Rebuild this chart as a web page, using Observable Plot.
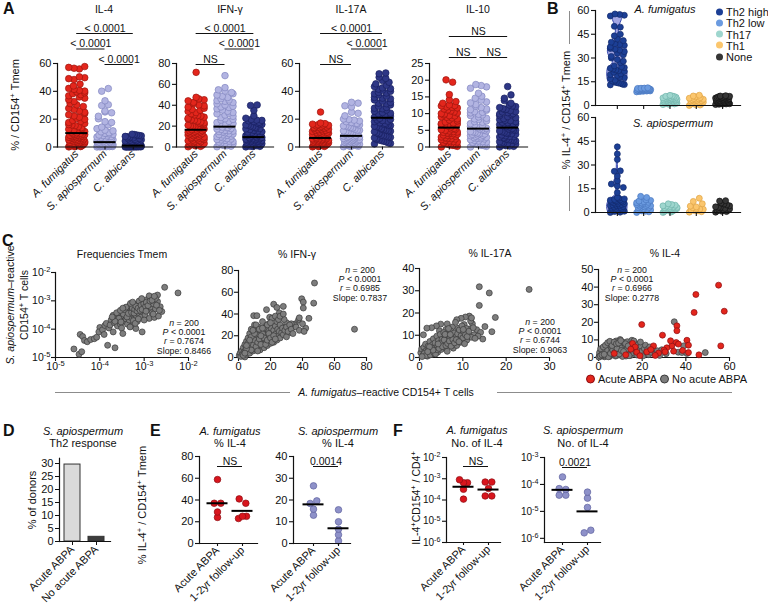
<!DOCTYPE html>
<html><head><meta charset="utf-8">
<script src="https://cdn.jsdelivr.net/npm/d3@7"></script>
<script src="https://cdn.jsdelivr.net/npm/@observablehq/plot@0.6"></script>
<style>
html,body{margin:0;padding:0;background:#fff;}
#fig{position:relative;width:768px;height:606px;overflow:hidden;font-family:"Liberation Sans",Arial,Helvetica,sans-serif;color:#111;}
#fig svg{position:absolute;left:0;top:0;pointer-events:none;}
.t{position:absolute;white-space:nowrap;line-height:1;}
.t sup{font-size:0.7em;line-height:0;vertical-align:0.5em;}
.hl{position:absolute;background:#8c8c8c;}
.dot{display:inline-block;width:7px;height:7px;border-radius:50%;vertical-align:middle;margin-right:3px;position:relative;top:-1px;}
</style></head><body><div id="fig"></div>
<script>
// ---------------- DATA ----------------
const catsA = ["A. fumigatus","S. apiospermum","C. albicans"];
// Panel A values (% of CD154+ Tmem)
const il4Af=[57.8,57.2,56.6,56.1,50.4,49.8,49.1,48.5,45.2,43.9,42.1,41.4,40.7,40.2,39.6,38.9,38.3,37.6,36.8,35.9,35.1,34.0,32.7,31.2,30.3,29.1,27.8,26.9,25.8,24.9,24.1,23.2,22.3,21.4,20.6,19.9,19.1,18.4,17.6,16.9,16.1,15.4,14.6,13.9,13.1,12.4,11.8,11.1,10.6,10.2,12.7,15.8,9.8,9.3,8.9,8.4,7.9,7.5,7.0,6.6,6.1,5.7,5.2,4.8,4.3,3.9,3.4,3.0,2.6,2.1,1.7,1.3,0.9,0.5,0.2,8.1,4.1,1.1,6.8,2.9,9.6,9.0,8.6,8.2,7.7,7.2,6.8,6.3,5.9,5.4,5.0,4.6,4.4,3.7,3.2,2.8,2.3,1.9,1.5,1.0,0.7,0.4,0.1,0.3];
const il4Sa=[42.0,40.1,33.2,30.4,29.8,25.9,25.2,24.6,22.1,20.3,18.2,17.6,15.9,14.3,13.2,12.1,11.6,10.9,10.3,9.8,9.4,9.0,8.6,8.2,7.9,7.5,7.2,6.8,6.5,6.1,5.8,5.5,5.2,4.9,4.6,4.3,4.0,3.8,3.4,3.2,3.0,2.8,2.6,2.4,2.2,2.0,1.9,1.8,1.6,1.5,1.4,1.3,1.2,1.1,1.0,0.9,0.8,0.7,0.6,0.5,0.4,0.3,0.2,0.1,0.0,2.5,1.7,0.9,0.4,3.1,2.1,1.2,0.6,0.2,1.5,2.9];
const il4Ca=[9.2,8.9,8.6,8.3,8.0,7.6,7.3,7.0,6.6,6.2,5.9,5.5,5.2,4.9,4.6,4.3,4.0,3.7,3.4,3.1,2.9,2.7,2.5,2.3,2.1,1.9,1.8,1.7,1.6,1.5,1.4,1.3,1.2,1.1,1.05,0.95,0.9,0.85,0.8,0.75,0.7,0.65,0.6,0.55,0.5,0.45,0.4,0.35,0.3,0.25,0.2,0.15,0.1,0.05,0.0,0.9,0.8,0.7,0.6,0.5,0.4,0.3,0.2,0.1,0.0,0.55,0.35,0.25,0.15,0.05];
const ifnAf=[71.5,47.6,46.1,45.3,44.2,42.8,41.6,40.3,39.4,38.2,37.1,36.0,35.2,34.1,33.0,31.9,30.8,29.7,28.6,27.6,26.7,25.8,24.9,24.0,23.2,22.4,21.6,20.8,20.0,19.3,18.6,17.9,17.2,16.7,30.2,26.1,22.9,19.8,16.2,15.6,15.0,14.4,13.8,13.2,12.6,12.0,11.4,10.8,10.2,9.6,9.0,8.4,7.8,7.2,6.6,6.0,5.4,4.8,4.2,3.6,3.0,2.4,1.8,1.2,0.6,0.2,14.1,11.7,9.3,6.3,3.3,1.5,12.9,8.1,5.1,15.3];
const ifnSa=[68.4,56.9,54.8,53.6,52.2,51.0,49.8,48.6,47.4,46.2,45.0,43.8,42.6,41.4,40.2,39.0,37.8,36.6,35.4,34.2,33.0,31.8,30.6,29.4,28.2,27.0,25.8,24.6,23.4,22.4,21.4,20.6,19.9,44.5,38.4,32.4,26.4,21.9,19.1,18.4,17.6,16.8,16.0,15.2,14.4,13.6,12.8,12.0,11.2,10.4,9.6,8.8,8.0,7.2,6.4,5.6,4.8,4.0,3.2,2.4,1.6,0.8,0.2,17.2,14.8,12.4,10.0,7.6,5.2,2.8,1.2,15.6,11.6,6.8,3.6,18.8];
const ifnCa=[40.3,39.8,35.2,29.8,27.6,26.4,25.8,25.1,24.4,23.7,23.0,22.3,21.6,20.9,20.2,19.5,18.8,18.1,17.4,16.7,16.0,15.3,14.6,13.9,13.2,12.5,11.8,11.1,10.4,9.8,21.2,17.7,14.2,10.9,25.5,12.1,9.2,8.8,8.4,8.0,7.6,7.2,6.8,6.4,6.0,5.6,5.2,4.8,4.4,4.0,3.6,3.2,2.8,2.4,2.0,1.6,1.2,0.8,0.4,0.1,8.6,7.4,6.2,5.0,3.8,2.6,1.4,0.6,9.0,7.0,4.6,2.2];
const il17Af=[25.1,17.2,16.8,16.4,16.0,15.6,15.2,14.8,14.4,14.0,13.6,13.2,12.8,12.4,12.0,11.6,11.2,10.8,10.4,10.0,9.6,9.2,8.8,8.4,8.0,7.6,7.3,7.0,6.7,15.8,13.9,11.9,9.9,8.2,12.9,10.6,6.3,6.0,5.7,5.4,5.1,4.8,4.5,4.2,3.9,3.6,3.3,3.0,2.7,2.4,2.1,1.8,1.5,1.2,0.9,0.6,0.3,0.1,5.9,4.9,3.8,2.8,1.7,0.7,6.1,4.4,3.1,1.9,0.4,5.5,2.2,1.0];
const il17Sa=[32.1,31.5,29.6,28.8,25.0,24.2,20.1,19.3,18.7,18.2,17.6,17.0,16.4,15.8,15.2,14.6,14.0,13.4,12.8,12.2,11.6,11.0,10.4,9.8,9.2,8.6,8.2,22.4,16.9,13.7,10.8,9.5,19.8,15.0,12.0,7.8,7.4,7.0,6.6,6.2,5.8,5.4,5.0,4.6,4.2,3.8,3.4,3.0,2.6,2.2,1.8,1.4,1.0,0.6,0.2,7.2,6.0,4.8,3.6,2.4,1.2,0.4,6.8,5.2,3.2,1.6,7.6,4.4,2.0,0.8];
const il17Ca=[53.2,52.6,50.1,49.3,47.8,46.5,45.4,44.3,43.4,42.5,41.6,40.8,40.0,39.2,38.3,37.4,36.5,35.6,34.7,33.8,32.9,32.0,31.1,30.2,29.3,28.4,27.5,26.6,25.7,24.8,23.9,23.0,22.2,21.5,42.0,38.8,35.1,31.5,27.9,24.3,20.6,19.8,19.0,18.2,17.4,16.6,15.8,15.0,14.2,13.4,12.6,11.8,11.0,10.2,9.4,8.6,7.8,7.0,6.2,5.4,4.6,3.8,3.0,2.2,19.4,17.0,14.6,12.2,9.8,7.4,5.0,2.6,18.6,15.4,11.4,8.2,4.2,16.2,13.0,6.6];
const il10Af=[20.1,19.4,15.7,14.1,13.6,13.1,12.6,12.3,12.0,11.7,11.4,11.1,10.8,10.5,10.2,9.9,9.6,9.3,9.0,8.7,8.4,8.1,7.8,7.5,7.2,6.9,6.6,6.3,6.0,11.9,10.0,8.9,7.0,12.4,9.4,6.7,5.6,5.4,5.2,5.0,4.8,4.6,4.4,4.2,4.0,3.8,3.6,3.4,3.2,3.0,2.8,2.6,2.4,2.2,2.0,1.8,1.6,1.4,1.2,1.0,0.8,0.6,0.4,0.2,0.0,5.3,4.5,3.5,2.5,1.5,0.5,4.1];
const il10Sa=[18.7,18.4,18.0,17.6,16.1,15.2,14.6,14.0,13.2,12.7,12.2,11.8,11.4,11.0,10.6,10.2,9.8,9.4,9.0,8.6,8.2,7.8,7.4,7.0,6.6,6.2,5.8,13.5,11.2,9.6,7.6,5.6,10.4,8.4,6.4,5.4,5.2,5.0,4.8,4.6,4.4,4.2,4.0,3.8,3.6,3.4,3.2,3.0,2.8,2.6,2.4,2.2,2.0,1.8,1.6,1.4,1.2,1.0,0.8,0.6,0.4,0.2,0.0,4.5,3.5,2.5,1.5,0.5,3.9,2.9];
const il10Ca=[18.1,15.6,14.6,13.9,13.1,12.6,12.1,11.8,11.5,11.2,10.9,10.6,10.3,10.0,9.7,9.4,9.1,8.8,8.5,8.2,7.9,7.6,7.3,7.0,6.7,6.4,6.1,11.3,9.9,8.0,6.9,12.3,10.5,7.4,6.0,5.6,5.4,5.2,5.0,4.8,4.6,4.4,4.2,4.0,3.8,3.6,3.4,3.2,3.0,2.8,2.6,2.4,2.2,2.0,1.8,1.6,1.4,1.2,1.0,0.8,0.6,0.4,0.2,0.0,5.1,4.1,3.1,2.1,1.1,0.3];
const medIL4=[10,3.5,1.0], medIFN=[16.5,19.5,9.5], medIL17=[6.5,8,21], medIL10=[5.8,5.5,5.8];
const brIL4=[{a:0,b:2,level:2,t:"< 0.0001"},{a:0,b:1,level:1,t:"< 0.0001"},{a:1,b:2,level:0,t:"< 0.0001"}];
const brIFN=[{a:0,b:2,level:2,t:"< 0.0001"},{a:1,b:2,level:1,t:"< 0.0001"},{a:0,b:1,level:0,t:"NS"}];
const brIL17=[{a:0,b:2,level:2,t:"< 0.0001"},{a:1,b:2,level:1,t:"< 0.0001"},{a:0,b:1,level:0,t:"NS"}];
const brIL10=[{a:0,b:2,level:1,t:"NS"},{a:0,b:0.95,level:0,t:"NS"},{a:1.05,b:2,level:0,t:"NS"}];

// Panel B
const catsB=["Th2 high","Th2 low","Th17","Th1","None"];
const bAf=[
 [57.8,57.5,57.0,56.5,50.0,49.5,45.0,44.0,42.0,41.0,40.0,39.0,38.5,38.0,37.0,36.0,35.5,35.0,34.0,33.0,32.0,31.0,30.0,29.0,28.0,27.0,25.0,24.5,24.0,23.5,23.0,22.5,22.0,21.5,21.0,20.0,19.5,19.0,18.0,17.5,17.0,16.0,15.5,15.0,14.5,14.0,13.5,13.0,13.2,14.2],
 [8.6,8.8,9.0,9.1,9.2,9.3,9.4,9.5,9.6,9.7,9.8,9.9,10.0,10.1,10.2,10.3,10.4,10.5,10.6,10.7,10.8,11.0,11.2,9.5,10.0,9.8,10.2,9.3,10.6,10.9],
 [6.4,6.0,5.7,5.5,5.2,5.0,4.8,4.6,4.4,4.2,4.0,3.8,3.6,3.4,3.2,3.0,2.8,2.6,2.4,2.2,2.0,1.8,1.6,1.4,1.2,1.0,0.8,0.6,4.5,3.5,2.5,1.5,5.8,3.9,2.1],
 [6.5,6.0,5.5,5.0,4.6,4.2,3.9,3.6,3.3,3.0,2.7,2.4,2.1,1.8,1.5,1.2,0.9,0.6,0.3,0.0,4.4,2.9],
 [6.2,6.0,5.8,5.6,5.4,5.2,5.0,4.8,4.6,4.4,4.2,4.0,3.8,3.6,3.4,3.2,3.0,2.8,2.6,2.4,2.2,2.0,1.8,1.6,1.4,1.2,1.0,0.8,0.6,5.1,4.1,3.1,2.1,1.1,5.7,4.7,3.7,2.7,1.7,0.9]];
const bSa=[
 [41.5,37.0,33.5,26.3,26.0,23.0,20.0,18.0,16.8,15.8,12.6,9.5,9.0,8.6,8.2,7.8,7.4,7.0,6.6,6.2,5.8,5.4,5.0,4.6,4.2,3.8,3.4,3.0,2.6,2.2,1.8,1.4,1.0,0.6,0.2,0.0,8.0,6.8,5.6,4.4,3.2,2.0,0.8,7.2,4.8,2.4],
 [10.2,9.5,8.0,7.6,7.2,6.8,6.4,6.0,5.6,5.2,4.8,4.4,4.0,3.6,3.2,2.8,2.4,2.0,1.6,1.2,0.8,0.4,0.0,5.0,3.0,1.0,6.2,4.2],
 [5.5,5.0,4.6,4.2,3.8,3.4,3.0,2.7,2.4,2.1,1.8,1.5,1.2,0.9,0.6,0.3,0.0,3.2,2.0,1.0,4.0,2.6],
 [9.0,7.0,5.5,4.0,3.5,3.0,2.5,2.0,1.5,1.0,0.5,0.2,2.2,1.2],
 [7.5,7.2,6.0,5.4,4.8,4.2,3.6,3.0,2.6,2.2,1.8,1.4,1.0,0.6,0.2,3.3,2.0,0.8]];
// violin density profiles (value, relative width)
const violinAf=[[13,0.75],[15,0.9],[18,1.0],[21,1.0],[23,0.95],[25,0.7],[27,0.45],[29,0.5],[31,0.8],[34,0.95],[37,0.85],[40,0.6],[43,0.3],[46,0.15],[50,0.2],[54,0.45],[58,0.6]];
const violinSa=[[0,0.9],[2,1.0],[5,1.0],[8,0.8],[10,0.35],[12,0.12],[15,0.1],[18,0.28],[20,0.3],[23,0.1],[27,0.06],[33,0.05],[38,0.04],[41.5,0.03]];

// Panel C pairs [A. fumigatus, S. apiospermum]
const tmemPairs=[[2.6e-5,2.0e-5],[3.4e-5,1.3e-5],[3.9e-5,1.6e-5],[3.6e-5,6.5e-5],[4.1e-5,5.5e-5],[4.5e-5,4.0e-5],[5.2e-5,3.6e-5],[6.2e-5,4.3e-5],[7.5e-5,4.6e-5],[8.5e-5,5.2e-5],[1.0e-4,1.15e-4],[9.5e-5,8e-5],[1.15e-4,9.5e-5],[1.3e-4,1.35e-4],[1.5e-4,2.7e-5],[2.2e-4,2.2e-5],[1.25e-4,6.5e-5],[1.6e-4,1.1e-4],[1.4e-4,1.6e-4],[1.8e-4,2.1e-4],[1.7e-4,1.4e-4],[2.0e-4,8e-5],[2.1e-4,1.7e-4],[2.3e-4,2.6e-4],[2.0e-4,3.1e-4],[2.5e-4,1.3e-4],[2.6e-4,2.0e-4],[2.8e-4,3.2e-4],[2.9e-4,1.5e-4],[3.0e-4,2.5e-4],[3.2e-4,4.0e-4],[3.1e-4,1.1e-4],[3.3e-4,7e-5],[3.5e-4,2.9e-4],[3.6e-4,1.9e-4],[3.8e-4,3.5e-4],[3.9e-4,2.3e-4],[4.0e-4,4.6e-4],[4.2e-4,1.5e-4],[4.3e-4,3.0e-4],[4.5e-4,5.5e-4],[4.6e-4,2.1e-4],[4.8e-4,3.8e-4],[5.0e-4,2.6e-4],[5.1e-4,6.2e-4],[5.3e-4,1.3e-4],[5.5e-4,4.4e-4],[5.6e-4,3.3e-4],[5.8e-4,5.1e-4],[6.0e-4,2.4e-4],[6.2e-4,7.5e-4],[6.4e-4,4.1e-4],[6.6e-4,3.0e-4],[6.8e-4,5.8e-4],[7.0e-4,1.9e-4],[7.2e-4,4.8e-4],[7.5e-4,6.8e-4],[7.8e-4,3.5e-4],[8.0e-4,8.2e-4],[8.3e-4,5.3e-4],[8.6e-4,2.7e-4],[8.9e-4,6.3e-4],[9.2e-4,4.2e-4],[9.5e-4,9.0e-4],[1.0e-3,5.7e-4],[1.05e-3,3.2e-4],[1.1e-3,7.2e-4],[1.15e-3,1.1e-3],[1.2e-3,4.8e-4],[1.25e-3,8.5e-4],[1.3e-3,2.4e-4],[1.4e-3,6.0e-4],[1.45e-3,1.3e-3],[1.5e-3,3.8e-4],[1.6e-3,7.8e-4],[1.7e-3,2.6e-4],[1.8e-3,5.2e-4],[2.0e-3,9.5e-4],[2.1e-3,2.9e-4],[2.3e-3,6.2e-4],[2.5e-3,4.2e-4],[2.9e-3,3.0e-3],[5.8e-3,1.9e-3],[2.0e-3,1.6e-3],[1.3e-3,1.5e-3],[1.8e-3,1.2e-3],[9e-4,8e-5],[6.5e-4,1.05e-4],[4.8e-4,1.2e-4],[2.4e-4,3.8e-4],[2.7e-4,2.4e-4],[3.4e-4,3.4e-4],[3.7e-4,4.8e-4],[4.1e-4,2.7e-4],[4.4e-4,3.6e-4],[4.7e-4,6.8e-4],[5.2e-4,3.9e-4],[5.4e-4,5.6e-4],[5.9e-4,3.7e-4],[6.1e-4,5.0e-4],[6.5e-4,6.6e-4],[6.9e-4,4.4e-4],[7.3e-4,5.5e-4],[7.7e-4,9.8e-4],[8.1e-4,4.6e-4],[8.5e-4,7.0e-4],[9.0e-4,5.0e-4],[9.8e-4,7.9e-4],[1.08e-3,6.4e-4],[1.12e-3,9.0e-4],[1.22e-3,6.8e-4],[1.35e-3,9.8e-4],[3.9e-4,6.0e-4],[2.9e-4,4.6e-4],[2.2e-4,1.9e-4],[1.9e-4,2.7e-4],[3.0e-4,1.8e-4],[5.7e-4,2.0e-4],[6.3e-4,1.6e-4],[7.4e-4,2.3e-4],[1.0e-3,2.1e-4],[4.9e-4,8.1e-4],[3.3e-4,5.5e-4],[5.5e-4,9.0e-4],[8.8e-4,1.2e-3],[1.5e-3,1.05e-3],[1.9e-3,7.0e-4],[2.2e-3,4.6e-4],[1.6e-3,3.4e-4],[1.1e-3,4.3e-4],[1.7e-3,1.45e-3]];
const ifnPairs=[[47.5,68.5],[72.5,26],[39.5,54],[40.5,51],[40.5,45.5],[47,50],[42,27],[22,49],[24,46],[25.5,41],[9.5,38.5],[11.5,38.5],[17.5,44],[19.5,37],[37.5,34.5],[35.5,31],[30.5,29],[32,23],[44,36],[38,36.5],[35,30],[33,31],[30,32],[27,28],[28,47],[0.5,2],[1,4],[1.5,1],[2,6],[2.5,3],[3,9],[3.5,5],[4,0.5],[4,12],[4.5,7],[5,3],[5,15],[5.5,10],[6,6],[6,18],[6.5,12],[7,4],[7,22],[7.5,8],[8,14],[8,26],[8.5,10],[9,17],[9,6],[9.5,20],[10,12],[10,30],[10.5,8],[11,16],[11,24],[11.5,14],[12,10],[12,19],[12.5,28],[13,13],[13,21],[13.5,7],[14,17],[14,25],[14.5,11],[15,15],[15,33],[15.5,20],[16,9],[16,23],[16.5,13],[17,18],[17,28],[17.5,15],[18,11],[18,21],[18.5,25],[19,16],[19,31],[19.5,19],[20,13],[20,23],[20.5,27],[21,17],[21,36],[21.5,21],[22,14],[22,25],[22.5,19],[23,29],[23.5,22],[24,16],[24,33],[24.5,26],[25,20],[25.5,24],[26,18],[26,30],[27,23],[27.5,27],[28,21],[28.5,35],[29,25],[30,19],[30,28],[31,24],[32,30],[33,26],[34,22],[36,28],[38,25],[40,31],[41,24],[6,9],[7,11],[8,7],[9,12],[10,16],[11,10],[12,14],[13,17],[14,12],[15,22],[16,18],[17,12],[18,16],[19,22],[20,18],[21,14],[22,20],[23,17],[5,8],[3,2],[4,4],[6,13],[8,19],[10,22],[12,6],[14,20],[16,27],[18,30],[20,32],[23,38],[25,35],[26,38],[28,40],[11,30],[13,26],[15,27],[9,25],[7,16],[5,11]];
const il17Pairs=[[13.8,31.8],[16.1,29.0],[25.3,30.6],[13.8,23.4],[17.5,18.0],[16.7,11.6],[14.6,8.3],[11.5,18.6],[10.6,18.2],[9.6,17.6],[8.6,17.0],[12.2,15.2],[10.3,14.8],[13.2,12.5],[12.6,10.2],[11.2,12.8],[14.1,11.3],[15.1,13.9],[7.6,13.7],[6.4,15.1],[4.9,15.0],[3.9,14.2],[2.8,13.4],[1.7,13.2],[0.9,10.2],[4.6,12.0],[6.1,12.6],[8.9,13.1],[9.8,11.2],[11.9,9.1],[10.9,7.8],[13.5,9.6],[0.3,2.1],[0.5,3.8],[0.8,1.0],[1.0,4.6],[1.2,2.5],[1.4,6.0],[1.6,3.2],[1.8,0.6],[2.0,5.1],[2.2,2.0],[2.4,7.2],[2.6,3.9],[2.8,1.4],[3.0,5.8],[3.2,8.4],[3.4,3.0],[3.6,6.6],[3.8,4.4],[4.0,9.6],[4.2,2.4],[4.4,7.6],[4.6,5.2],[4.8,10.4],[5.0,3.6],[5.2,8.2],[5.4,6.0],[5.6,11.2],[5.8,4.6],[6.0,9.0],[6.2,7.0],[6.4,2.8],[6.6,10.0],[6.8,5.6],[7.0,8.6],[7.2,12.0],[7.4,6.4],[7.6,9.6],[7.8,4.2],[8.0,11.0],[8.2,7.6],[8.4,9.2],[8.6,5.4],[8.8,10.6],[9.0,8.0],[9.2,12.4],[9.4,6.8],[9.6,9.8],[9.8,14.2],[10.0,8.8],[10.2,11.6],[10.4,6.2],[10.6,10.2],[10.8,13.0],[11.0,9.4],[11.4,11.8],[11.8,16.4],[12.4,13.4],[12.8,8.6],[1.1,1.8],[1.5,0.9],[2.1,3.4],[2.5,1.2],[2.9,4.1],[3.3,2.2],[3.7,1.6],[4.1,3.5],[4.5,4.1],[4.9,6.5],[5.3,4.9],[5.7,7.9],[6.1,5.4],[6.5,6.3],[6.9,7.4],[7.3,5.1],[7.7,8.1],[8.1,6.6],[8.5,8.0],[3.1,3.3],[2.3,4.8],[1.9,2.6],[0.6,0.4],[5.9,10.4],[4.3,6.1],[7.1,10.3],[9.1,7.1],[10.1,12.6],[12.0,17.8],[8.3,15.8],[6.7,13.0]];
const il4PairsNo=[[0.3,0.5],[0.6,1.8],[0.9,3.4],[1.2,0.8],[1.5,2.6],[1.8,4.8],[2.1,1.2],[2.4,3.0],[2.7,0.4],[3.0,5.6],[3.3,2.0],[3.6,3.8],[3.9,1.0],[4.2,6.4],[4.5,2.8],[4.8,4.4],[5.1,0.6],[5.4,7.4],[5.7,3.2],[6.0,5.0],[6.3,1.6],[6.6,8.0],[6.9,3.6],[7.2,2.2],[7.5,5.8],[7.8,0.8],[8.1,9.4],[8.4,4.0],[8.7,2.6],[9.0,6.6],[9.3,1.4],[9.6,4.6],[9.9,10.2],[10.2,3.0],[10.5,7.2],[10.8,1.8],[11.1,5.2],[11.4,8.6],[11.7,2.4],[12.0,4.2],[12.3,6.2],[12.6,0.8],[12.9,3.4],[13.2,9.0],[13.5,5.4],[13.8,2.0],[14.1,7.0],[14.4,3.8],[14.7,1.2],[15.0,6.0],[15.3,9.8],[15.6,4.4],[16.0,2.6],[16.4,8.2],[16.8,5.6],[17.2,3.2],[17.6,1.4],[18.0,7.4],[18.5,4.0],[19.0,2.2],[19.5,6.4],[20.0,3.6],[20.5,1.0],[21.0,5.0],[21.5,7.0],[22.0,2.8],[22.5,4.6],[23.0,1.6],[23.5,6.0],[24.0,3.0],[25.0,5.2],[26.0,2.0],[27.0,3.8],[28.0,1.2],[29.0,4.4],[31.0,2.2],[34.7,20.3],[36.5,3.0],[38.2,2.8],[39.0,6.6],[40.5,2.3],[48.9,2.8],[1.0,1.2],[2.0,2.2],[3.0,0.8],[4.0,3.2],[5.0,1.8],[6.0,2.8],[7.0,4.8],[8.0,1.2],[9.0,3.4],[10.0,5.6],[11.0,0.6],[12.0,2.8],[13.0,4.8],[14.0,1.0],[2.5,5.2],[3.5,4.2],[4.5,0.4],[5.5,2.4],[6.5,4.2],[7.5,3.0],[8.5,5.2],[9.5,2.0],[10.5,4.0],[11.5,3.4],[0.5,2.8],[1.5,4.0],[1.0,5.0],[2.2,6.0],[3.2,7.0],[4.2,8.4],[5.2,9.2],[6.2,6.8],[7.2,8.8],[8.2,7.8],[9.2,8.2],[10.2,9.6],[12.4,7.8],[13.6,6.6],[16.2,9.4],[19.2,8.8],[0.2,0.2],[0.8,0.9],[1.6,1.5],[2.6,1.8]];
const il4PairsAcute=[[55.0,41.1],[44.6,35.8],[43.8,25.6],[57.6,26.3],[19.8,18.7],[29.3,12.7],[35.9,18.0],[35.9,15.2],[35.6,8.5],[36.6,7.6],[33.6,6.6],[31.3,5.5],[30.0,4.2],[30.5,3.2],[34.4,3.6],[40.5,9.8],[41.2,7.0],[41.2,2.8],[56.0,6.6],[15.6,8.0],[16.8,6.0],[14.8,4.7],[17.5,3.0],[25.2,6.6],[22.1,3.2],[7.2,2.3],[12.5,1.5],[24.0,4.5],[19.0,1.0],[27.5,2.5],[38.5,4.0],[33.0,9.5],[26.0,1.2],[46.0,1.5]];
const statsC=[["n = 200","P < 0.0001","r = 0.7674","Slope: 0.8466"],["n = 200","P < 0.0001","r = 0.6985","Slope: 0.7837"],["n = 200","P < 0.0001","r = 0.6744","Slope: 0.9063"],["n = 200","P < 0.0001","r = 0.6966","Slope: 0.2778"]];

// Panel D
const catsD=["Acute ABPA","No acute ABPA"];
const donorsPct=[29.6,1.8];
// Panel E (% IL-4+) and F (No. of IL-4)
const catsEF=["Acute ABPA","1-2yr follow-up"];
const eAf=[[58.8,37,37,29,24],[41,37,25,25,23]], eAfMed=[37,30];
const eSa=[[26.5,19.6,18.4,15.8,13],[15.5,10,6.6,4,1.2]], eSaMed=[18,7];
const fAf=[[9e-4,6.5e-4,6.5e-4,3.2e-4,1.1e-4],[7e-4,7e-4,3.5e-4,1.55e-4,1.55e-4]], fAfMed=[4.2e-4,3.1e-4];
const fSa=[[1.9e-4,7e-5,6.5e-5,4e-5,4e-5],[5.2e-5,3.1e-5,1.4e-5,2e-6,1.6e-6]], fSaMed=[6.3e-5,1e-5];

// ---------------- HELPERS ----------------
const FONT='"Liberation Sans", Arial, Helvetica, sans-serif';
const fig=document.getElementById('fig');
const RED={fill:"#e3261c",stroke:"#9c150f"}, LAV={fill:"#b2b4e2",stroke:"#8386c0"}, NAVY={fill:"#2e3786",stroke:"#192060"};
const RED2={fill:"#d8151d",stroke:"#8c0d12"}, LAV2={fill:"#8e91c9",stroke:"#60639f"};
const BCOL=[{fill:"#1c3f95",stroke:"#12296b"},{fill:"#6b9be0",stroke:"#4a78c0"},{fill:"#9ed6ce",stroke:"#70b3aa"},{fill:"#fbc66d",stroke:"#e0a445"},{fill:"#363636",stroke:"#111"}];

function frame(x0,x1,y0,y1){return {width:768,height:606,marginLeft:x0,marginRight:768-x1,marginTop:y0,marginBottom:606-y1};}
function sty(fs){return {background:"transparent",fontFamily:FONT,fontSize:fs+"px",color:"#111",overflow:"visible"};}
function supTicks(svg){
  d3.select(svg).selectAll("text").each(function(){
    const m=/^10\^(-?\d+)$/.exec(this.textContent);
    if(m){const s=d3.select(this);s.text(null);s.append("tspan").text("10");s.append("tspan").attr("dy","-0.5em").attr("font-size","0.72em").text(m[1]);}
  });
}
function put(svg,italicX){fig.appendChild(svg);supTicks(svg);
  if(italicX) d3.select(svg).selectAll('g[aria-label="x-axis tick label"] text').style("font-style","italic");
  return svg;}
function txt(html,x,y,o={}){
  const d=document.createElement("div");d.className="t";d.innerHTML=html;
  d.style.left=x+"px";d.style.top=y+"px";d.style.fontSize=(o.size||11)+"px";
  if(o.italic)d.style.fontStyle="italic";if(o.bold)d.style.fontWeight="bold";
  const tx=o.anchor==="start"?"0":o.anchor==="end"?"-100%":"-50%";
  d.style.transform=`translate(${tx},-50%)`+(o.rot?` rotate(${o.rot}deg)`:"");
  if(o.rot)d.style.transformOrigin="50% 50%";
  fig.appendChild(d);return d;}
function hline(x0,x1,y){const d=document.createElement("div");d.className="hl";Object.assign(d.style,{left:x0+"px",top:(y-0.5)+"px",width:(x1-x0)+"px",height:"1px"});fig.appendChild(d);}
function vline(x,y0,y1){const d=document.createElement("div");d.className="hl";Object.assign(d.style,{left:(x-0.5)+"px",top:y0+"px",width:"1px",height:(y1-y0)+"px"});fig.appendChild(d);}
function gcd(a,b){return b?gcd(b,a%b):a;}
// GraphPad-like scatter-dot layout: rows of nearly equal values spread across the band
function swarm(vals,f,pxY,halfW,row,diam){
  const it=vals.map(v=>({v,p:f(v)*pxY})).sort((a,b)=>a.p-b.p);
  const rows=[];let cur=[];
  for(const d of it){if(cur.length&&d.p-cur[0].p>row){rows.push(cur);cur=[];}cur.push(d);}
  if(cur.length)rows.push(cur);
  const out=[];
  rows.forEach((r,k)=>{const n=r.length;const step=n>1?Math.min(diam,2*halfW/(n-1)):0;
    let s=[7,5,3,2,1].find(q=>gcd(q,n)===1&&q<n)||1;
    r.forEach((d,i)=>{const slot=n>2?(i*s+k)%n:(k%2?n-1-i:i);out.push({v:d.v,off:(slot-(n-1)/2)*step});});});
  return out;}

function strip(o){
  const log=!!o.log, f=log?Math.log10:(v=>v);
  const pxX=(o.x1-o.x0)/(o.xd[1]-o.xd[0]);
  const pxY=(o.y1-o.y0)/(f(o.yd[1])-f(o.yd[0]));
  const pts=[];
  o.groups.forEach((vals,gi)=>swarm(vals,f,pxY,o.halfW,o.row,o.diam).forEach(p=>pts.push({x:gi+p.off/pxX,v:p.v,fill:o.colors[gi].fill,stroke:o.colors[gi].stroke})));
  const marks=[];
  (o.violins||[]).forEach(vl=>marks.push(Plot.areaX(vl.data,{y:d=>d[0],x1:d=>vl.i-d[1]*o.vHalf/pxX,x2:d=>vl.i+d[1]*o.vHalf/pxX,curve:"catmull-rom",fill:"#a4a7e4",stroke:"#3b4db0",strokeWidth:1})));
  marks.push(Plot.dot(pts,{x:"x",y:"v",r:o.r,fill:"fill",stroke:"stroke",strokeWidth:0.7}));
  if(o.medians)marks.push(Plot.ruleY(o.medians.map((m,i)=>({i,m})),{y:"m",x1:d=>d.i-o.medHalf/pxX,x2:d=>d.i+o.medHalf/pxX,stroke:"#000",strokeWidth:2}));
  marks.push(Plot.frame({anchor:"left",stroke:"#111",strokeWidth:1.2}));
  marks.push(Plot.frame({anchor:"bottom",stroke:"#111",strokeWidth:1.2}));
  marks.push(Plot.axisY({ticks:o.yticks,tickSize:4,tickPadding:2,tickFormat:o.yfmt||(d=>String(d)),strokeWidth:1.1,label:null,fontSize:o.yfs||o.fs}));
  marks.push(Plot.axisX({ticks:o.cats.map((c,i)=>i),tickFormat:o.xlabels===false?(()=>""):(i=>o.cats[i]),tickRotate:o.xlabels===false?0:-45,tickSize:o.tickX||3,tickPadding:2,strokeWidth:1.1,fontSize:o.xfs||o.fs,label:null}));
  (o.brackets||[]).forEach(b=>{const lift=o.lifts[b.level];
    marks.push(Plot.ruleY([b],{y:()=>o.yd[1],x1:d=>d.a,x2:d=>d.b,dy:-lift,stroke:"#111",strokeWidth:1}));
    marks.push(Plot.text([b],{x:d=>(d.a+d.b)/2,y:()=>o.yd[1],text:"t",dy:-lift-2,lineAnchor:"bottom",fontSize:o.bfs||10.5}));});
  return put(Plot.plot({...frame(o.x0,o.x1,o.y0,o.y1),style:sty(o.fs),
    x:{domain:o.xd,label:null},y:{type:log?"log":"linear",domain:o.yd,label:null},color:{type:"identity"},marks}),o.italic);
}
function scatter(o){
  const fs=o.fs||11;
  const marks=[
    Plot.frame({anchor:"left",stroke:"#111",strokeWidth:1.2}),Plot.frame({anchor:"bottom",stroke:"#111",strokeWidth:1.2}),
    Plot.axisX({ticks:o.xt,tickFormat:o.fmt||(d=>String(d)),tickSize:4,tickPadding:1,strokeWidth:1.1,label:null,fontSize:fs}),
    Plot.axisY({ticks:o.yt,tickFormat:o.fmt||(d=>String(d)),tickSize:4,tickPadding:1,strokeWidth:1.1,label:null,fontSize:fs})];
  o.sets.forEach(s=>marks.push(Plot.dot(s.data,{x:d=>d[0],y:d=>d[1],r:3,fill:s.fill,stroke:s.stroke,strokeWidth:0.7})));
  return put(Plot.plot({...frame(o.x0,o.x1,o.y0,o.y1),style:sty(fs),x:{type:o.log?"log":"linear",domain:o.xd,label:null},y:{type:o.log?"log":"linear",domain:o.yd,label:null},marks}));
}
const pow=d=>"10^"+Math.round(Math.log10(d));

// ---------------- PANEL A ----------------
const Aco={y0:63,y1:146.5,xd:[-0.68,2.68],cats:catsA,colors:[RED,LAV,NAVY],r:3.3,halfW:8,row:4.5,diam:6.6,medHalf:11,fs:11,italic:true,lifts:[-1,14.5,30]};
strip({...Aco,x0:57,x1:152,yd:[0,60],yticks:[0,20,40,60],groups:[il4Af,il4Sa,il4Ca],medians:medIL4,brackets:brIL4});
strip({...Aco,x0:176,x1:273,yd:[0,80],yticks:[0,20,40,60,80],groups:[ifnAf,ifnSa,ifnCa],medians:medIFN,brackets:brIFN});
strip({...Aco,x0:299,x1:403,yd:[0,60],yticks:[0,20,40,60],groups:[il17Af,il17Sa,il17Ca],medians:medIL17,brackets:brIL17});
strip({...Aco,x0:429,x1:527,yd:[0,25],yticks:[0,5,10,15,20,25],groups:[il10Af,il10Sa,il10Ca],medians:medIL10,brackets:brIL10,lifts:[6,27]});
txt("A",3,9,{size:16,bold:true,anchor:"start"});
txt("IL-4",104,9,{size:10.5});txt("IFN-γ",230,9,{size:10.5});txt("IL-17A",351,9,{size:10.5});txt("IL-10",478,9,{size:10.5});
txt("% / CD154<sup>+</sup> Tmem",15,105,{rot:-90});

// ---------------- PANEL B ----------------
const Bco={x0:595,x1:740,xd:[-0.83,4.68],cats:catsB,colors:BCOL,r:3,halfW:7,row:4.5,diam:6,fs:11,xlabels:false,tickX:4,yd:[0,60],yticks:[0,15,30,45,60],vHalf:10};
strip({...Bco,y0:10,y1:105,groups:bAf,violins:[{i:0,data:violinAf}]});
strip({...Bco,y0:117,y1:212,groups:bSa,violins:[{i:0,data:violinSa}]});
txt("B",547,9,{size:16,bold:true,anchor:"start"});
txt("A. fumigatus",665,9,{italic:true});txt("S. apiospermum",673,123,{italic:true});
catsB.forEach((c,i)=>txt(`<span class="dot" style="background:${BCOL[i].fill}"></span>${c}`,716,12+i*11.25,{anchor:"start"}));
txt("% IL-4<sup>+</sup> / CD154<sup>+</sup> Tmem",566,110,{rot:-90});
vline(569,11,44);vline(569,176,211);

// ---------------- PANEL C ----------------
const grey={fill:"#7d7d7d",stroke:"#3a3a3a"};
scatter({x0:55,x1:188,y0:272,y1:357,log:true,fs:10.5,xd:[1e-5,1e-2],yd:[1e-5,1e-2],xt:[1e-5,1e-4,1e-3,1e-2],yt:[1e-5,1e-4,1e-3,1e-2],fmt:pow,sets:[{data:tmemPairs,...grey}]});
scatter({x0:238,x1:366,y0:270,y1:357,xd:[0,80],yd:[0,80],xt:[0,20,40,60,80],yt:[0,20,40,60,80],sets:[{data:ifnPairs,...grey}]});
scatter({x0:419,x1:549,y0:268,y1:357,xd:[0,30],yd:[0,40],xt:[0,10,20,30],yt:[0,10,20,30,40],sets:[{data:il17Pairs,...grey}]});
scatter({x0:598,x1:729,y0:269,y1:357,xd:[0,60],yd:[0,50],xt:[0,20,40,60],yt:[0,10,20,30,40,50],sets:[{data:il4PairsNo,...grey},{data:il4PairsAcute,fill:"#e3261c",stroke:"#8c0d12"}]});
txt("C",2,241,{size:16,bold:true,anchor:"start"});
txt("Frequencies Tmem",122,254,{size:10.5});txt("% IFN-γ",297,254,{size:10.5});txt("% IL-17A",490,253,{size:10.5});txt("% IL-4",665,253,{size:10.5});
const statPos=[[184,323],[360,270],[540,322],[632,270]];
statsC.forEach((lines,k)=>lines.forEach((l,j)=>{
  const h=l.replace(/^n /,"<i>n</i> ").replace(/^P /,"<i>P</i> ").replace(/^r /,"<i>r</i> ");
  txt(h,statPos[k][0],statPos[k][1]+j*9.2,{size:8.8});}));
txt("<i>S. apiospermum</i>–reactive",10,305,{rot:-90,size:10.5});
txt("CD154<sup>+</sup> T cells",24,305,{rot:-90,size:10.5});
hline(55,290,392);hline(497,732,392);
txt("<i>A. fumigatus</i>–reactive CD154+ T cells",386,392,{size:10.5});
txt(`<span class="dot" style="background:#e3261c;border:0.7px solid #8c0d12"></span>Acute ABPA`,586,379,{anchor:"start"});
txt(`<span class="dot" style="background:#7d7d7d;border:0.7px solid #3a3a3a"></span>No acute ABPA`,660,379,{anchor:"start"});

// ---------------- PANEL D ----------------
put(Plot.plot({...frame(59,110,457.8,541),style:sty(11),x:{type:"band",domain:catsD,paddingInner:0.33,paddingOuter:0.2,label:null},y:{domain:[0,32],label:null},color:{type:"identity"},
  marks:[Plot.barY(catsD.map((c,i)=>({c,v:donorsPct[i],f:i?"#3d3d3d":"#dadada"})),{x:"c",y:"v",fill:"f",stroke:"#333",strokeWidth:1}),
  Plot.frame({anchor:"left",stroke:"#111",strokeWidth:1.2}),Plot.frame({anchor:"bottom",stroke:"#111",strokeWidth:1.2}),
  Plot.axisY({ticks:[0,5,10,15,20,25,30],tickSize:4,tickPadding:2,label:null}),Plot.axisX({tickRotate:-45,tickSize:4,tickPadding:2,label:null})]}));
txt("D",3,431,{size:16,bold:true,anchor:"start"});
txt("S. apiospermum",83,431,{italic:true});txt("Th2 response",83,443);
txt("% of donors",32,500,{rot:-90});

// ---------------- PANEL E ----------------
const EFco={cats:catsEF,r:3.3,halfW:4,row:5,diam:6.6,medHalf:10.5,fs:11};
strip({...EFco,x0:199,x1:257,y0:456,y1:543,xd:[-0.72,1.6],yd:[0,80],yticks:[0,20,40,60,80],groups:eAf,colors:[RED2,RED2],medians:eAfMed,brackets:[{a:0,b:1,level:0,t:"NS"}],lifts:[-10]});
strip({...EFco,x0:293,x1:350,y0:456,y1:543,xd:[-0.8,1.48],yd:[0,40],yticks:[0,10,20,30,40],groups:eSa,colors:[LAV2,LAV2],medians:eSaMed,brackets:[{a:0,b:1,level:0,t:"0.0014"}],lifts:[-10]});
txt("E",150,431,{size:16,bold:true,anchor:"start"});
txt("A. fumigatus",230,431,{italic:true});txt("% IL-4",230,443);
txt("S. apiospermum",338,431,{italic:true});txt("% IL-4",338,443);
txt("% IL-4<sup>+</sup> / CD154<sup>+</sup> Tmem",142,505,{rot:-90});

// ---------------- PANEL F ----------------
strip({...EFco,log:true,yfs:10,x0:446,x1:500,y0:457,y1:542,xd:[-0.68,1.48],yd:[1e-6,1e-2],yticks:[1e-6,1e-5,1e-4,1e-3,1e-2],yfmt:pow,groups:fAf,colors:[RED2,RED2],medians:fAfMed,brackets:[{a:0,b:1,level:0,t:"NS"}],lifts:[-9]});
strip({...EFco,log:true,yfs:10,x0:544,x1:600,y0:457,y1:542,xd:[-0.72,1.52],yd:[7e-7,1e-3],yticks:[1e-6,1e-5,1e-4,1e-3],yfmt:pow,groups:fSa,colors:[LAV2,LAV2],medians:fSaMed,brackets:[{a:0,b:1,level:0,t:"0.0021"}],lifts:[-10]});
txt("F",393,431,{size:16,bold:true,anchor:"start"});
txt("A. fumigatus",477,430,{italic:true});txt("No. of IL-4",477,443);
txt("S. apiospermum",583,430,{italic:true});txt("No. of IL-4",583,443);
txt("IL-4<sup>+</sup>CD154<sup>+</sup> / CD4<sup>+</sup>",416,498,{rot:-90,size:10.5});
</script></body></html>
